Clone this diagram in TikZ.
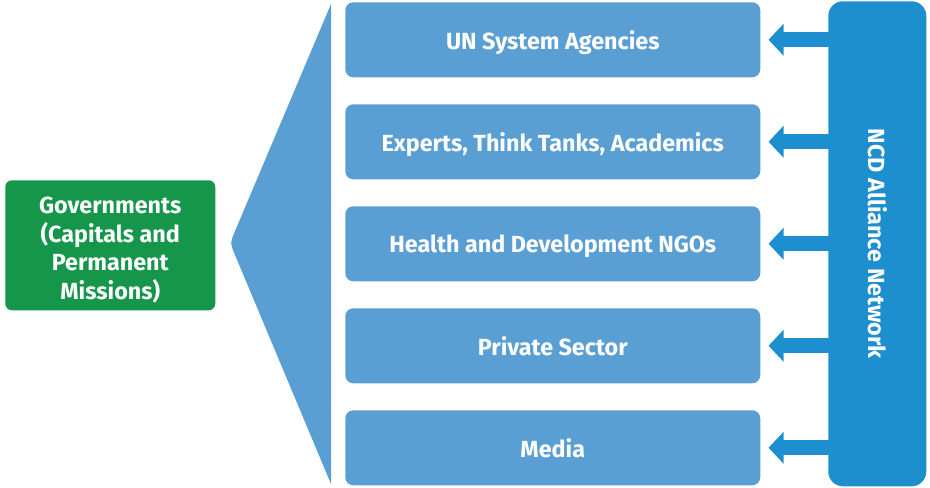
\documentclass[tikz,border=0pt]{standalone}
\usepackage{fontspec}
\setmainfont{Fira Sans}
\usetikzlibrary{arrows.meta,calc}
\definecolor{boxblue}{HTML}{5A9FD4}
\definecolor{barblue}{HTML}{1E8FCE}
\definecolor{govgreen}{HTML}{15964A}
\tikzset{
  labelfont/.style={font=\bfseries\fontsize{17.5}{21.4}\selectfont},
  stakebox/.style={fill=boxblue, rounded corners=6pt, minimum width=311.25pt, minimum height=56.25pt, inner sep=0pt, text=white, labelfont, text depth=0pt, anchor=north west},
  linkarrow/.style={barblue, line width=11.25pt, -{Triangle[width=23.25pt,length=11.25pt]}}
}
\begin{document}
\begin{tikzpicture}[x=0.75pt,y=-0.75pt]
\useasboundingbox (0,0) rectangle (930,488);
% funnel
\coordinate (ftop) at (331,4);
\coordinate (fbot) at (331,484);
\coordinate (fleft) at (230,243);
\fill[boxblue] (ftop) -- (fbot) -- ($(fleft)!9pt!(fbot)$) .. controls (fleft) .. ($(fleft)!9pt!(ftop)$) -- cycle;
% stakeholder boxes
\node[stakebox] (b1) at (345,2) {UN System Agencies};
\node[stakebox] (b2) at (345,104) {Experts, Think Tanks, Academics};
\node[stakebox] (b3) at (345,206) {Health and Development NGOs};
\node[stakebox] (b4) at (345,308) {Private Sector};
\node[stakebox] (b5) at (345,410) {Media};
% governments
\node[fill=govgreen, rounded corners=5pt, minimum width=157.5pt, minimum height=97.5pt, inner sep=0pt, anchor=north west] (gov) at (5,180) {};
\node[text=white, align=center, labelfont, inner sep=0pt] (govtext) at ([yshift=-3.5pt]gov.center) {Governments\\(Capitals and\\Permanent\\Missions)};
% NCD bar
\node[fill=barblue, rounded corners=11pt, minimum width=73.5pt, minimum height=363.75pt, inner sep=0pt, anchor=north west] (bar) at (828,1) {};
\node[text=white, rotate=-90, labelfont] (ncd) at (bar.center) {NCD Alliance Network};
% arrows
\foreach \b in {b1,b2,b3,b4,b5}
  \draw[linkarrow] ([xshift=2pt]bar.west |- \b.east) -- ([xshift=6pt]\b.east);
\end{tikzpicture}
\end{document}
